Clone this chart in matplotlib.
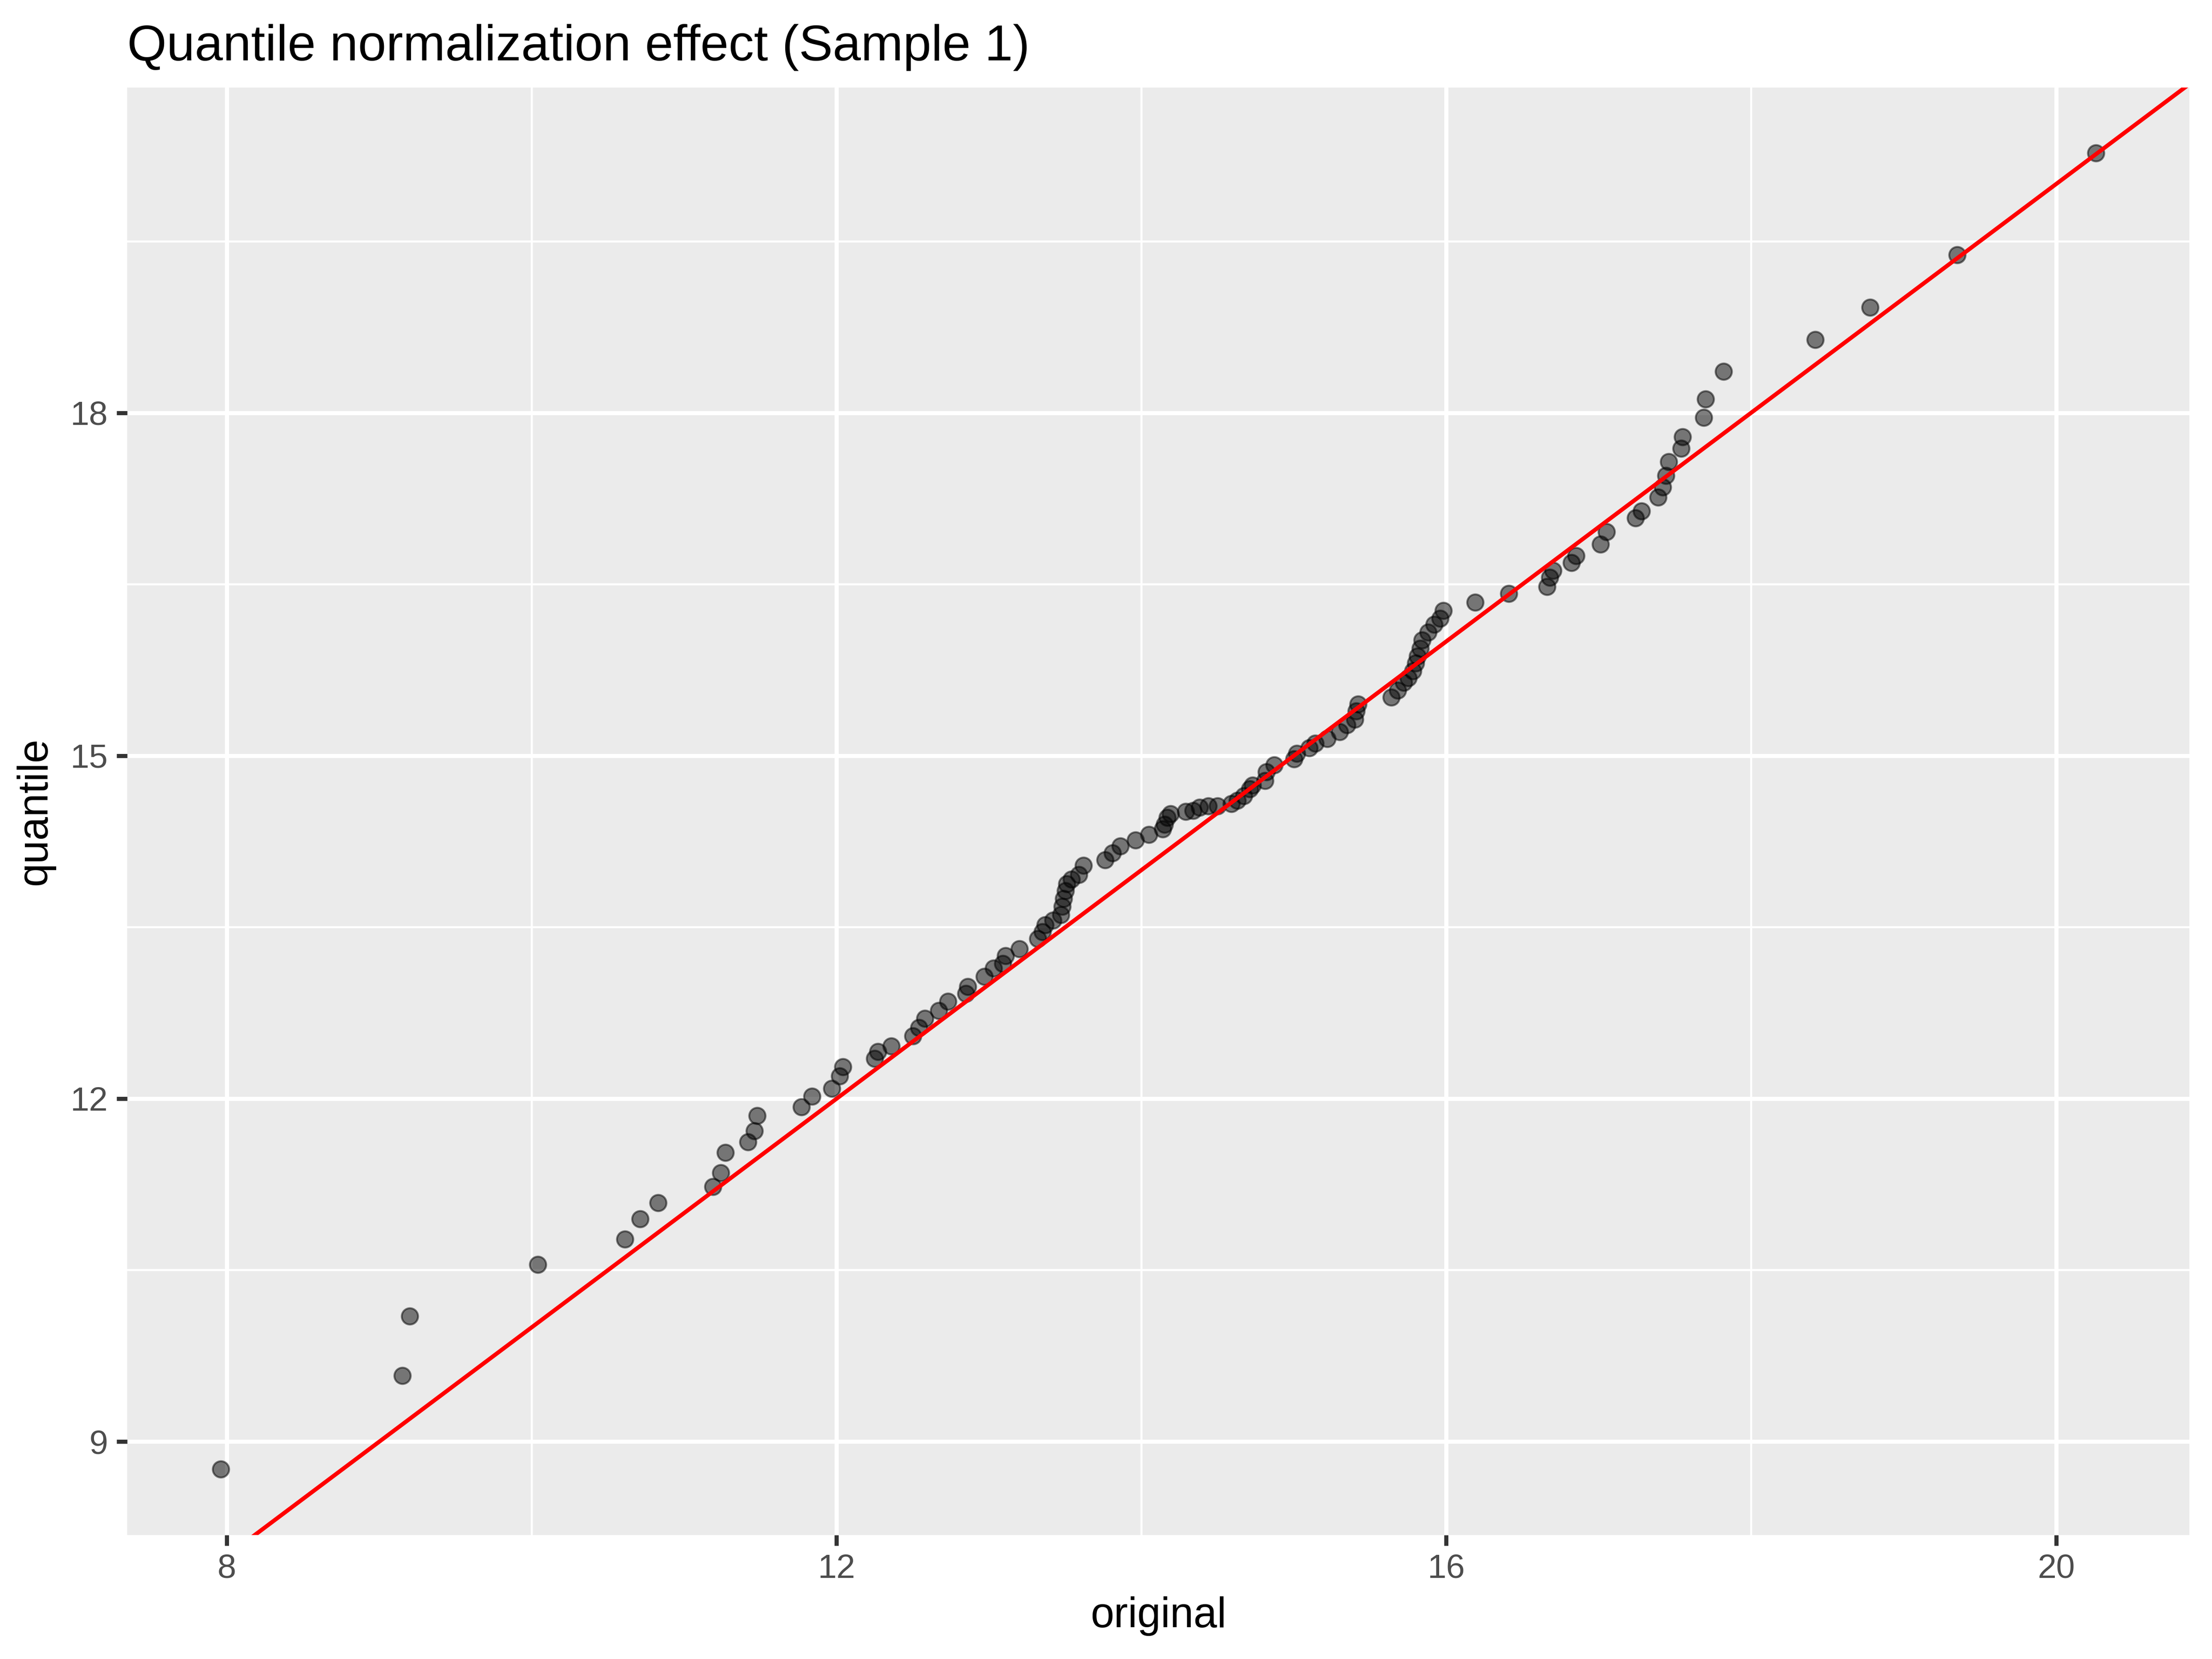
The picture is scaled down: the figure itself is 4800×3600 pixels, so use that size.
#!/usr/bin/env python3

"""Quantile normalization effect for sample 1: original vs quantile-normalized values."""

import numpy as np
import matplotlib
matplotlib.use("Agg")
import matplotlib.pyplot as plt

original = [7.96, 9.15, 9.20, 10.04, 10.61, 10.71, 10.83, 11.19, 11.24, 11.27,
            11.42, 11.46, 11.48, 11.77, 11.84, 11.97, 12.02, 12.04, 12.25, 12.27,
            12.36, 12.50, 12.54, 12.58, 12.67, 12.73, 12.85, 12.86, 12.97, 13.03,
            13.09, 13.11, 13.20, 13.32, 13.35, 13.37, 13.42, 13.47, 13.48, 13.49,
            13.50, 13.51, 13.54, 13.59, 13.62, 13.76, 13.81, 13.86, 13.96, 14.05,
            14.14, 14.15, 14.17, 14.19, 14.29, 14.34, 14.38, 14.44, 14.50, 14.59,
            14.63, 14.67, 14.71, 14.73, 14.81, 14.82, 14.87, 15.00, 15.02, 15.10,
            15.14, 15.22, 15.30, 15.35, 15.40, 15.41, 15.42, 15.64, 15.68, 15.72,
            15.75, 15.78, 15.80, 15.81, 15.83, 15.84, 15.88, 15.92, 15.96, 15.98,
            16.19, 16.41, 16.66, 16.68, 16.70, 16.82, 16.85, 17.01, 17.05, 17.24,
            17.28, 17.39, 17.42, 17.44, 17.46, 17.54, 17.55, 17.69, 17.70, 17.82,
            18.42, 18.78, 19.35, 20.26]
quantile = [8.76, 9.58, 10.10, 10.55, 10.77, 10.95, 11.09, 11.23, 11.35, 11.53,
            11.62, 11.72, 11.85, 11.93, 12.02, 12.09, 12.20, 12.28, 12.35, 12.41,
            12.46, 12.55, 12.62, 12.70, 12.77, 12.85, 12.92, 12.98, 13.07, 13.14,
            13.18, 13.25, 13.31, 13.40, 13.46, 13.52, 13.56, 13.61, 13.68, 13.75,
            13.82, 13.88, 13.92, 13.96, 14.04, 14.09, 14.15, 14.21, 14.26, 14.31,
            14.36, 14.40, 14.46, 14.49, 14.51, 14.52, 14.55, 14.56, 14.56, 14.58,
            14.61, 14.65, 14.71, 14.74, 14.78, 14.86, 14.92, 14.97, 15.02, 15.07,
            15.11, 15.15, 15.21, 15.27, 15.32, 15.39, 15.45, 15.51, 15.57, 15.64,
            15.68, 15.74, 15.81, 15.87, 15.94, 16.01, 16.08, 16.15, 16.20, 16.27,
            16.34, 16.42, 16.48, 16.56, 16.62, 16.69, 16.75, 16.85, 16.96, 17.08,
            17.14, 17.26, 17.35, 17.45, 17.57, 17.69, 17.79, 17.96, 18.12, 18.36,
            18.64, 18.92, 19.38, 20.27]

x_ticks = [8, 12, 16, 20]
y_ticks = [9, 12, 15, 18]

plt.rcParams["font.family"] = ["Liberation Sans", "DejaVu Sans"]

fig = plt.figure(figsize=(8, 6), dpi=600)
ax = fig.add_axes([0.0574, 0.0748, 0.9324, 0.8725])

# ggplot-style 5% expansion
def expand(vals):
    lo, hi = min(vals), max(vals)
    pad = (hi - lo) * 0.05
    return lo - pad, hi + pad

xlim = expand(original)
ylim = expand(quantile)

ax.set_facecolor("#EBEBEB")
for s in ax.spines.values():
    s.set_visible(False)

ax.set_xticks(x_ticks)
ax.set_yticks(y_ticks)
ax.set_xticks([10, 14, 18], minor=True)
ax.set_yticks([10.5, 13.5, 16.5, 19.5], minor=True)
ax.grid(True, which="major", color="white", linewidth=1.07)
ax.grid(True, which="minor", color="white", linewidth=0.53)
ax.set_axisbelow(True)
ax.tick_params(which="major", length=2.75, width=1.07, color="#333333",
               labelsize=8.8, labelcolor="#4D4D4D", pad=2.2)
ax.tick_params(which="minor", length=0)

ax.scatter(original, quantile, s=18, color="black", alpha=0.5,
           linewidths=0.5, zorder=3)

line = np.array(xlim)
ax.plot(line, line, color="red", linewidth=1.07, zorder=4)

ax.set_xlim(xlim)
ax.set_ylim(ylim)

ax.set_xlabel("original", fontsize=11, labelpad=3)
ax.set_ylabel("quantile", fontsize=11, labelpad=4)
ax.set_title("Quantile normalization effect (Sample 1)", fontsize=13.2,
             loc="left", pad=7)

fig.savefig("out.png", dpi=600)
